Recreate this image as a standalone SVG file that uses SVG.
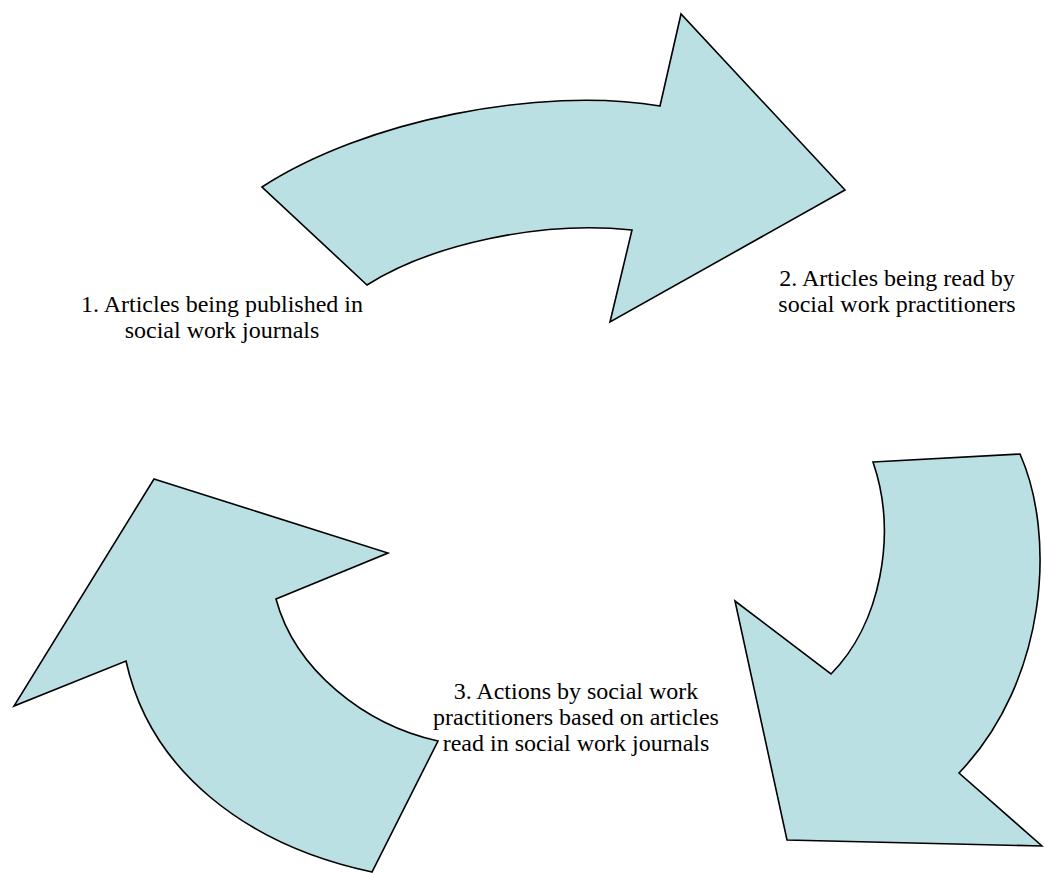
<svg xmlns="http://www.w3.org/2000/svg" width="1044" height="873" viewBox="0 0 1044 873">
<style>
.arrow{fill:#BAE0E3;stroke:#000;stroke-width:1.6;stroke-linejoin:miter}
text{font-family:'Liberation Serif','Times New Roman',Times,serif;font-size:24px;fill:#000;text-anchor:middle}
</style>
<rect width="1044" height="873" fill="#fff"/>
<g id="arrow1">
<path class="arrow" d="M262,187 C365,120 540,86 660,106 L681,14 L845,190 L610,322 L632,230 C540,220 430,245 367,285 Z"/>
</g>
<g id="arrow2">
<path class="arrow" d="M873,462 L1020,454 C1056,535 1048,680 959,773 L1042,846 L787,840 L735,601 L831,674 C880,625 898,535 873,462 Z"/>
</g>
<g id="arrow3">
<path class="arrow" d="M154,479 L388,553 L276,599 C295,670 365,725 438,741 L372,872 C245,845 150,770 126,661 L14,706 Z"/>
</g>
<g id="label1">
<text x="222" y="312">1. Articles being published in</text>
<text x="222" y="338">social work journals</text>
</g>
<g id="label2">
<text x="897" y="286">2. Articles being read by</text>
<text x="897" y="312">social work practitioners</text>
</g>
<g id="label3">
<text x="576" y="699">3. Actions by social work</text>
<text x="576" y="725">practitioners based on articles</text>
<text x="576" y="751">read in social work journals</text>
</g>
<g id="connectors"/>
</svg>
